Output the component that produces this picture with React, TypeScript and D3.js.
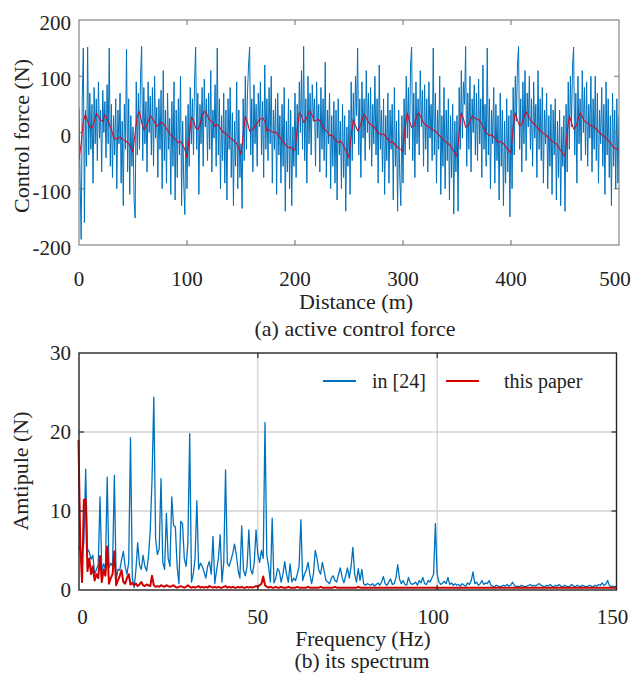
import React from 'react';
import * as d3 from 'd3';

// ---------- (a) active control force ----------
const distTicks = [0, 100, 200, 300, 400, 500];
const forceTicks = [-200, -100, 0, 100, 200];
const blueStepM = 1; // metres between samples of the "in [24]" force
const redStepM = 2; // metres between samples of "this paper" force

const forceIn24 = [
  45, -80, -190, 60, 150, -160, 40, -60, 152, -40,
  70, -30, 50, -90, 80, -20, 60, -50, 90, -10,
  40, -70, 75, 0, 55, -45, 85, -20, 150, -60,
  50, -80, 30, -40, 60, -100, 40, -20, 70, -90,
  20, -130, 50, -30, 148, -70, 60, -110, 30, -60,
  10, -120, -152, 90, -40, 70, -30, 100, 153, -50,
  80, -20, 55, -70, 90, 0, 65, -40, 80, -60,
  100, -10, 45, -80, 60, -30, 75, -100, 110, -50,
  40, -90, 70, -30, 25, -110, 55, -60, 90, -120,
  40, -80, 60, -40, 100, -130, 20, -90, -146, 30,
  -100, 50, -60, 80, -20, 60, -40, 90, 152, -30,
  70, -110, 50, -20, 80, -60, 95, 10, 60, -50,
  70, -30, 110, -70, 40, -10, 85, -60, 150, -40,
  60, -100, 30, -50, 70, -90, 40, -120, 60, -30,
  80, -80, 35, -130, 20, -60, 90, -100, 40, -80,
  -20, -135, 60, -50, 100, -30, 70, 120, 152, -40,
  60, -70, 85, -20, 50, -60, 70, 10, 90, -40,
  55, -80, 120, -30, 60, -50, 80, -20, 100, -90,
  40, -30, 60, -110, 70, -40, 30, -90, 50, -60,
  80, -140, 20, -70, 60, -100, 40, -130, 10, -60,
  70, -80, 50, -40, 90, 0, 110, -30, 153, -50,
  60, -90, 100, -20, 70, -40, 85, 20, 60, -60,
  90, -10, 50, -70, 80, -30, 60, -50, 125, -80,
  40, -20, 70, -100, 30, -60, 55, -90, 40, -120,
  60, -40, 20, -100, 50, -80, 30, -140, 10, -60,
  40, -110, 90, -50, 70, -20, 100, 30, 150, -40,
  60, -80, 90, -10, 60, -50, 110, 0, 70, -30,
  80, -60, 50, -20, 100, -40, 60, -90, 120, -30,
  40, -70, 60, -110, 30, -50, 70, -90, 40, -30,
  50, -120, 80, -60, 20, -140, 40, -80, -130, 30,
  -90, 60, -40, 100, -10, 80, -30, 120, 152, -50,
  70, -80, 90, -20, 60, -40, 110, 10, 75, -60,
  85, -30, 60, -70, 90, -10, 50, -50, 150, -40,
  70, -90, 40, -30, 100, -110, 30, -60, 80, -100,
  40, -50, 60, -120, 30, -80, 50, -145, 20, -70,
  30, -140, 80, -30, 110, -10, 90, 50, 153, -60,
  70, -30, 100, -70, 60, 0, 85, -40, 70, -50,
  95, -20, 60, -80, 120, -30, 50, -60, 150, -40,
  60, -100, 40, -20, 80, -90, 50, -50, 30, -120,
  70, -60, 40, -130, 20, -90, 60, -70, 30, -150,
  40, -100, 80, -40, 100, 20, 120, 153, -30, 60,
  -70, 90, -20, 110, -50, 70, 10, 100, -30, 60,
  -60, 90, -10, 50, -80, 110, -30, 60, -50, 80,
  -90, 40, -20, 70, -100, 30, -60, 50, -110, 40,
  -40, 60, -120, 20, -80, 40, -130, 10, -60, 30,
  -140, 50, -70, 90, -30, 100, 10, 120, 152, -40,
  70, -90, 100, -20, 60, -50, 110, 0, 80, -40,
  90, -60, 50, -10, 100, -70, 60, -30, 100, -50,
  70, -90, 40, -20, 80, -60, 50, -110, 90, -40,
  60, -80, 30, -130, 70, -60, 40, -100, 60, -90,
  30,
];

const forceThisPaper = [
  -48, -20, 20, 32, 20, 9, 8, 18, 34, 28, 22, 20, 31, 25, 15, 5, -8, -12, -10, -8, -12, -14, -16, -20, -26,
  -35, 0, 30, 38, 18, 5, 10, 20, 29, 25, 18, 11, 14, 18, 16, 10, 4, -2, -6, -10, -14, -18, -16, -22, -30,
  -45, -10, 27, 22, 8, 5, 15, 28, 38, 34, 25, 20, 18, 11, 14, 10, 4, 0, -2, -6, -10, -12, -16, -20, -28,
  -39, -5, 29, 18, 2, 5, 8, 14, 20, 24, 26, 20, 3, 5, 2, 0, 1, -4, -8, -14, -18, -24, -27, -26, -30,
  -32, 5, 35, 30, 18, 22, 32, 38, 30, 20, 22, 23, 18, 10, 4, 2, -6, -4, -10, -14, -18, -15, -20, -28, -36,
  -45, -5, 23, 12, 3, 10, 22, 32, 26, 18, 14, 12, 8, 2, -2, -4, -2, -8, -12, -18, -16, -20, -24, -28, -30,
  -33, 10, 35, 20, 9, 12, 24, 35, 30, 20, 15, 12, 9, 8, 4, 3, -2, -6, -10, -14, -17, -20, -24, -30, -38,
  -42, 0, 35, 24, 9, 12, 20, 29, 26, 24, 23, 18, 10, 2, -2, -6, -4, -8, -12, -18, -16, -18, -22, -28, -32,
  -36, 10, 35, 22, 11, 15, 28, 37, 30, 22, 18, 14, 10, 5, 2, -2, -4, -8, -12, -16, -18, -20, -26, -32, -38,
  -42, 0, 29, 18, 6, 10, 22, 35, 28, 20, 18, 15, 12, 11, 8, 4, 0, -4, -6, -10, -14, -18, -24, -28, -30, -30,
];

// ---------- (b) its spectrum ----------
const freqTicks = [0, 50, 100, 150];
const ampTicks = [0, 10, 20, 30];
const freqStepHz = 0.5;

const specIn24 = [
  5.5, 5.0, 4.2, 6.0, 15.3, 5.2, 4.8, 3.9, 4.4, 2.0,
  2.6, 3.2, 11.8, 2.4, 3.3, 2.6, 14.3, 2.8, 3.4, 3.0,
  14.5, 1.2, 2.6, 2.5, 3.8, 4.9, 3.0, 2.0, 3.5, 19.3,
  1.5, 0.3, 2.5, 6.0, 3.2, 2.6, 4.4, 3.0, 2.4, 4.2,
  7.5, 14.0, 24.4, 6.5, 4.5, 5.2, 14.1, 3.5, 2.6, 9.7,
  4.0, 3.0, 11.8, 8.2, 8.0, 3.0, 0.8, 8.7, 8.4, 4.0,
  3.0, 6.0, 19.8, 1.0, 2.0, 4.0, 11.3, 2.6, 3.4, 3.0,
  2.3, 1.5, 3.0, 3.6, 2.0, 6.8, 0.8, 2.5, 4.0, 7.0,
  1.0, 3.5, 15.2, 3.4, 3.0, 3.8, 4.6, 5.8, 4.5, 2.5,
  1.5, 8.1, 2.5, 1.8, 3.0, 7.6, 2.6, 2.0, 3.5, 7.6,
  4.5, 3.5, 5.0, 4.0, 21.2, 4.4, 3.0, 1.0, 9.1, 0.9,
  1.5, 2.7, 2.4, 1.0, 2.0, 3.6, 2.0, 1.0, 3.3, 1.0,
  1.5, 1.2, 2.0, 3.0, 8.9, 1.2, 2.0, 2.5, 3.5, 2.0,
  0.8, 2.0, 5.0, 4.0, 2.5, 2.0, 3.5, 2.4, 1.2, 1.0,
  0.8, 1.5, 1.8, 1.2, 1.0, 2.0, 2.8, 1.6, 0.9, 1.8,
  2.8, 1.5, 3.0, 5.4, 2.0, 1.0, 2.7, 1.2, 2.6, 0.8,
  0.6, 0.8, 0.7, 0.6, 0.8, 0.5, 0.7, 0.9, 0.6, 1.0,
  1.7, 0.8, 0.6, 1.0, 1.4, 0.7, 0.8, 1.5, 3.2, 1.4,
  0.8, 1.2, 0.7, 0.6, 1.6, 0.9, 0.7, 0.8, 1.0, 0.6,
  1.2, 0.9, 1.6, 0.8, 0.7, 1.2, 1.0, 1.5, 2.0, 8.4,
  2.0, 1.0, 0.7, 0.9, 1.1, 0.8, 1.6, 0.7, 0.9, 0.6,
  0.8, 0.6, 0.7, 0.5, 0.8, 0.6, 0.5, 0.9, 0.7, 1.2,
  2.3, 0.8, 1.0, 0.6, 0.8, 1.2, 0.7, 0.9, 0.8, 1.2,
  0.6, 0.5, 0.4, 0.6, 0.5, 0.4, 0.5, 0.6, 0.5, 0.7,
  0.5, 0.6, 1.0, 0.6, 0.4, 0.5, 0.4, 0.6, 0.5, 0.4,
  0.5, 0.6, 0.7, 0.5, 0.6, 0.5, 0.7, 0.8, 0.6, 0.5,
  0.4, 0.6, 0.5, 0.7, 0.5, 0.4, 0.6, 0.5, 0.7, 0.5,
  0.4, 0.6, 0.5, 0.4, 0.5, 0.7, 0.5, 0.4, 0.6, 0.5,
  0.4, 0.6, 0.5, 0.4, 0.5, 0.6, 0.5, 0.4, 0.6, 0.5,
  0.7, 0.6, 0.9, 0.6, 0.7, 1.2, 0.6, 0.4, 0.5, 0.4,
  0.5,
];

const specThisPaper = [
  19, 5.6, 1.0, 11.4, 11.5, 2.4, 4.0, 2.0, 3.0, 1.2,
  2.0, 1.5, 4.3, 1.0, 2.6, 1.8, 5.5, 0.8, 1.5, 2.0,
  4.9, 0.6, 1.2, 1.8, 2.5, 1.0, 0.8, 1.5, 2.0, 0.7,
  0.9, 0.6, 0.8, 0.5, 0.7, 1.0, 0.6, 0.5, 0.7, 0.6,
  0.5, 1.8, 0.6, 0.4, 0.5, 0.4, 0.6, 0.5, 0.4, 0.6,
  0.5, 0.4, 0.5, 0.6, 0.4, 0.3, 0.4, 0.5, 0.4, 0.3,
  0.4, 0.6, 0.4, 0.3, 0.4, 0.3, 0.4, 0.5, 0.3, 0.4,
  0.3, 0.4, 0.3, 0.5, 0.4, 0.3, 0.4, 0.3, 0.4, 0.3,
  0.3, 0.4, 0.5, 0.3, 0.4, 0.3, 0.4, 0.3, 0.3, 0.4,
  0.3, 0.4, 0.3, 0.3, 0.4, 0.3, 0.4, 0.3, 0.4, 0.5,
  0.4, 0.6, 0.8, 1.7, 0.6, 0.4, 0.3, 0.4, 0.3, 0.3,
  0.4, 0.3, 0.3, 0.4, 0.3, 0.3, 0.3, 0.4, 0.3, 0.3,
  0.3, 0.3, 0.4, 0.3, 0.3, 0.3, 0.3, 0.3, 0.4, 0.3,
  0.3, 0.3, 0.3, 0.3, 0.3, 0.4, 0.3, 0.3, 0.3, 0.3,
  0.3, 0.3, 0.3, 0.4, 0.3, 0.3, 0.3, 0.3, 0.3, 0.3,
  0.3, 0.3, 0.3, 0.3, 0.3, 0.3, 0.4, 0.3, 0.3, 0.3,
  0.3, 0.3, 0.3, 0.3, 0.3, 0.3, 0.3, 0.3, 0.3, 0.3,
  0.3, 0.3, 0.3, 0.3, 0.3, 0.3, 0.3, 0.3, 0.3, 0.3,
  0.3, 0.3, 0.3, 0.3, 0.3, 0.3, 0.3, 0.3, 0.3, 0.3,
  0.3, 0.3, 0.3, 0.3, 0.3, 0.3, 0.3, 0.3, 0.3, 0.3,
  0.3, 0.3, 0.3, 0.3, 0.3, 0.3, 0.3, 0.3, 0.3, 0.3,
  0.3, 0.3, 0.3, 0.3, 0.3, 0.3, 0.3, 0.3, 0.3, 0.3,
  0.3, 0.3, 0.3, 0.3, 0.3, 0.3, 0.3, 0.3, 0.3, 0.3,
  0.3, 0.3, 0.3, 0.3, 0.3, 0.3, 0.3, 0.3, 0.3, 0.3,
  0.3, 0.3, 0.3, 0.3, 0.3, 0.3, 0.3, 0.3, 0.3, 0.3,
  0.3, 0.3, 0.3, 0.3, 0.3, 0.3, 0.3, 0.3, 0.3, 0.3,
  0.3, 0.3, 0.3, 0.3, 0.3, 0.3, 0.3, 0.3, 0.3, 0.3,
  0.3, 0.3, 0.3, 0.3, 0.3, 0.3, 0.3, 0.3, 0.3, 0.3,
  0.3, 0.3, 0.3, 0.3, 0.3, 0.3, 0.3, 0.3, 0.3, 0.3,
  0.3, 0.3, 0.3, 0.3, 0.3, 0.3, 0.3, 0.3, 0.3, 0.3,
  0.3,
];

const legendLabels = ['in [24]', 'this paper'];

const BLUE = '#0072BD';
const RED_TOP = '#C8102E';
const RED_BOT = '#D00000';
const FONT = '"Liberation Serif", "Times New Roman", Times, "DejaVu Serif", serif';

export default function App() {
  // panel (a)
  const xA = d3.scaleLinear().domain([0, 500]).range([79, 619]);
  const yA = d3.scaleLinear().domain([-200, 200]).range([245, 20]);
  // panel (b)
  const xB = d3.scaleLinear().domain([0, 150]).range([78.5, 616.5]);
  const yB = d3.scaleLinear().domain([0, 30]).range([590, 353]);

  const lineA1 = d3.line<number>().x((_, i) => xA(i * blueStepM)).y((v) => yA(v));
  const lineA2 = d3.line<number>().x((_, i) => xA(i * redStepM)).y((v) => yA(v));
  const lineB = d3.line<number>().x((_, i) => xB(i * freqStepHz)).y((v) => yB(v));

  const [a0, a1] = xA.range();
  const [aB, aT] = yA.range();
  const [b0, b1] = [79, 616.5];
  const [bB, bT] = yB.range();
  const tl = 5;
  const txt = { fontFamily: FONT, fill: '#222' } as React.CSSProperties;

  return (
    <svg width={635} height={674} style={{ position: 'absolute', left: 0, top: 0, background: '#fff', fontFamily: FONT }}>
      <defs>
        <clipPath id="clipA"><rect x={a0} y={aT} width={a1 - a0} height={aB - aT} /></clipPath>
        <clipPath id="clipB"><rect x={77} y={bT} width={b1 - 77} height={bB - bT} /></clipPath>
      </defs>
      <rect x={0} y={0} width={635} height={674} fill="#fff" />

      {/* ---------- panel (a) ---------- */}
      <g clipPath="url(#clipA)">
        <path d={lineA1(forceIn24) || ''} fill="none" stroke={BLUE} strokeWidth={1} strokeLinejoin="round" />
        <path d={lineA2(forceThisPaper) || ''} fill="none" stroke={RED_TOP} strokeWidth={1.1} strokeLinejoin="round" />
      </g>
      <rect x={a0} y={aT} width={a1 - a0} height={aB - aT} fill="none" stroke="#6e6e6e" strokeWidth={1} />
      {distTicks.slice(1, -1).map((t) => (
        <g key={'ta' + t}>
          <line x1={xA(t)} x2={xA(t)} y1={aB} y2={aB - tl} stroke="#6e6e6e" />
          <line x1={xA(t)} x2={xA(t)} y1={aT} y2={aT + tl} stroke="#6e6e6e" />
        </g>
      ))}
      {forceTicks.slice(1, -1).map((t) => (
        <g key={'fa' + t}>
          <line x1={a0} x2={a0 + tl} y1={yA(t)} y2={yA(t)} stroke="#6e6e6e" />
          <line x1={a1} x2={a1 - tl} y1={yA(t)} y2={yA(t)} stroke="#6e6e6e" />
        </g>
      ))}
      {distTicks.map((t) => (
        <text key={'la' + t} x={xA(t) - (t === 500 ? 4 : 0)} y={286} fontSize={21} textAnchor="middle" style={txt}>{t}</text>
      ))}
      {forceTicks.map((t) => (
        <text key={'lf' + t} x={71} y={yA(t) + 10} fontSize={21} textAnchor="end" style={txt}>{t}</text>
      ))}
      <text x={356} y={309} fontSize={22} textAnchor="middle" style={txt}>Distance (m)</text>
      <text transform="translate(29,136) rotate(-90)" fontSize={22} textAnchor="middle" style={txt}>Control force (N)</text>
      <text x={355} y={336} fontSize={22} textAnchor="middle" style={txt}>(a) active control force</text>

      {/* ---------- panel (b) ---------- */}
      {freqTicks.slice(1, -1).map((t) => (
        <line key={'gx' + t} x1={xB(t)} x2={xB(t)} y1={bB} y2={bT} stroke="#d2d2d2" strokeWidth={1.3} />
      ))}
      {ampTicks.slice(1, -1).map((t) => (
        <line key={'gy' + t} x1={b0} x2={b1} y1={yB(t)} y2={yB(t)} stroke="#d2d2d2" strokeWidth={1.3} />
      ))}
      <g clipPath="url(#clipB)">
        <path d={lineB(specIn24) || ''} fill="none" stroke={BLUE} strokeWidth={1.3} strokeLinejoin="round" />
        <path d={lineB(specThisPaper) || ''} fill="none" stroke={RED_BOT} strokeWidth={2} strokeLinejoin="round" />
      </g>
      <rect x={b0} y={bT} width={b1 - b0} height={bB - bT} fill="none" stroke="#262626" strokeWidth={1.4} />
      {freqTicks.slice(1, -1).map((t) => (
        <g key={'tb' + t}>
          <line x1={xB(t)} x2={xB(t)} y1={bB} y2={bB - tl} stroke="#262626" strokeWidth={1.2} />
          <line x1={xB(t)} x2={xB(t)} y1={bT} y2={bT + tl} stroke="#262626" strokeWidth={1.2} />
        </g>
      ))}
      {ampTicks.slice(1, -1).map((t) => (
        <g key={'ab' + t}>
          <line x1={b0} x2={b0 + tl} y1={yB(t)} y2={yB(t)} stroke="#262626" strokeWidth={1.2} />
          <line x1={b1} x2={b1 - tl} y1={yB(t)} y2={yB(t)} stroke="#262626" strokeWidth={1.2} />
        </g>
      ))}
      {freqTicks.map((t) => (
        <text key={'lb' + t} x={xB(t) + (t === 0 ? 4 : t >= 100 ? -4 : 0)} y={624} fontSize={21} textAnchor="middle" style={txt}>{t}</text>
      ))}
      {ampTicks.map((t) => (
        <text key={'lab' + t} x={71} y={yB(t) + 7} fontSize={21} textAnchor="end" style={txt}>{t}</text>
      ))}
      <text x={363} y={646} fontSize={21.5} textAnchor="middle" style={txt}>Frequency (Hz)</text>
      <text transform="translate(28,471) rotate(-90)" fontSize={22} textAnchor="middle" style={txt}>Amtipule (N)</text>
      <text x={362} y={668} fontSize={21.5} textAnchor="middle" style={txt}>(b) its spectrum</text>

      {/* legend */}
      <line x1={323} x2={356} y1={381} y2={381} stroke={BLUE} strokeWidth={2} />
      <text x={372} y={388} fontSize={20} style={txt}>{legendLabels[0]}</text>
      <line x1={446} x2={479} y1={381} y2={381} stroke={RED_BOT} strokeWidth={2} />
      <text x={504} y={388} fontSize={20} style={txt}>{legendLabels[1]}</text>
    </svg>
  );
}
